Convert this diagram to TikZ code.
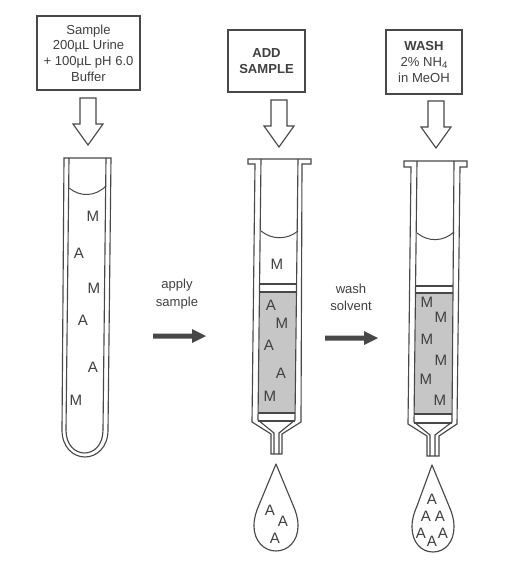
\documentclass[tikz,border=0pt]{standalone}
\usepackage{fontspec}
\setmainfont{Liberation Sans}
\definecolor{ink}{HTML}{484848}
\definecolor{txt}{HTML}{404040}
\definecolor{packing}{HTML}{C6C6C6}
\newcommand{\blockarrow}[2]{% centre x, tip y
  \draw[wall,fill=white] (#1-8,#2-47) -- (#1+8,#2-47) -- (#1+8,#2-21) -- (#1+15,#2-21) -- (#1,#2) -- (#1-15,#2-21) -- (#1-8,#2-21) -- cycle;}
\newcommand{\solidarrow}[2]{% left x, y
  \fill[ink] (#1,#2-2.5) -- (#1+39,#2-2.5) -- (#1+39,#2-7) -- (#1+53,#2) -- (#1+39,#2+7) -- (#1+39,#2+2.5) -- (#1,#2+2.5) -- cycle;}
\begin{document}
\begin{tikzpicture}[x=0.75pt,y=-0.75pt,
  wall/.style={draw=ink,line width=0.85pt,line join=miter},
  thin wall/.style={draw=ink,line width=0.75pt},
  box/.style={draw=ink,line width=0.9pt,fill=white,align=center,text=txt,font=\fontsize{9.8}{11.8}\selectfont,inner sep=0pt},
  letter/.style={text=txt,font=\fontsize{11.3}{13}\selectfont,inner sep=0pt},
  caption/.style={text=txt,align=center,font=\fontsize{9.8}{13}\selectfont,inner sep=0pt}]
\useasboundingbox (0,0) rectangle (515,564);
\fill[white] (0,0) rectangle (515,564);
% boxes
\node[box,minimum width=103*0.75pt,minimum height=74*0.75pt] (boxa) at (88.5,53) {Sample\\200µL Urine\\+ 100µL pH 6.0\\Buffer};
\node[box,minimum width=77*0.75pt,minimum height=62*0.75pt] (boxb) at (266.5,61) {\textbf{ADD}\\\textbf{SAMPLE}};
\node[box,minimum width=76*0.75pt,minimum height=64*0.75pt] (boxc) at (424,62) {\textbf{WASH}\\2\% NH\raisebox{-0.3ex}{\fontsize{7.2}{8}\selectfont 4}\\in MeOH};
% block arrows
\blockarrow{88}{145}
\blockarrow{279}{147}
\blockarrow{436}{148}
% test tube
\draw[wall] (62,430) -- (64,158) -- (111,158) -- (108,430) .. controls (108,447) and (97,457) .. (85,457) .. controls (73,457) and (62,447) .. (62,430);
\draw[wall] (69,158) -- (66,430) .. controls (66,445) and (75,453) .. (84.5,453) .. controls (94,453) and (103,445) .. (103,430) -- (106,158);
\draw[thin wall] (69,188) .. controls (80,197) and (95,197) .. (106,186);
% column 2
\fill[packing] (260,292) -- (296,292) -- (295,413) -- (258,413) -- cycle;
\draw[wall] (255,164) -- (248,164) -- (248,159) -- (311,159) -- (311,164) -- (302,164) -- (301,422) -- (282,434) -- (282,454) -- (271,454) -- (271,434) -- (252,422) -- cycle;
\draw[wall] (261,159) -- (258,420) -- (274,433) -- (274,454);
\draw[wall] (298,159) -- (295,420) -- (279,433) -- (279,454);
\draw[thin wall] (261,231) .. controls (272,240) and (287,240) .. (298,231);
\draw[wall] (260,284) -- (297,284);
\draw[wall] (260,292) -- (296,292);
\draw[wall] (258,413) -- (295,413);
\draw[wall] (258,421) -- (295,421);
% column 3
\fill[packing] (416,293) -- (453,293) -- (452,414) -- (414,414) -- cycle;
\draw[wall] (411,167) -- (404,167) -- (404,161) -- (467,161) -- (467,167) -- (460,167) -- (457,424) -- (439,436) -- (439,456) -- (427,456) -- (427,436) -- (408,424) -- cycle;
\draw[wall] (417,161) -- (414,422) -- (430,435) -- (430,456);
\draw[wall] (454,161) -- (452,422) -- (435,435) -- (435,456);
\draw[thin wall] (417,233) .. controls (428,242) and (443,242) .. (454,232);
\draw[wall] (416,286) -- (453,286);
\draw[wall] (416,293) -- (453,293);
\draw[wall] (414,414) -- (452,414);
\draw[wall] (414,423) -- (452,423);
% drops
\draw[wall,line join=round] (276,464) -- (259,505) .. controls (256,512) and (254,518) .. (254,526) .. controls (254,541) and (264,551) .. (276,551) .. controls (288,551) and (298,541) .. (298,526) .. controls (298,518) and (296,512) .. (293,505) -- cycle;
\draw[wall,line join=round] (432,465) -- (417,506) .. controls (414,513) and (412,519) .. (412,527) .. controls (412,542) and (421,552) .. (433,552) .. controls (445,552) and (454,542) .. (454,527) .. controls (454,519) and (452,513) .. (449,506) -- cycle;
% solid arrows
\solidarrow{153}{336}
\solidarrow{325}{338}
% captions
\node[caption] (capa) at (177,294) {apply\\sample};
\node[caption] (capb) at (351,297) {wash\\solvent};
% letters
\foreach \n/\px/\py/\l in {a1/93/216/M,a2/79/253/A,a3/94/288/M,a4/83/320/A,a5/93/367/A,a6/76/400/M,
  b1/277/264/M,b2/271/305/A,b3/282/323/M,b4/269/345/A,b5/281/373/A,b6/270/396/M,
  c1/427/302/M,c2/441/317/M,c3/427/339/M,c4/441/360/M,c5/426/379/M,c6/440/400/M,
  d1/270/510/A,d2/283/521/A,d3/275/538/A,
  e1/432/499/A,e2/426/516/A,e3/440/516/A,e4/421/533/A,e5/432/541/A,e6/443/533/A}
  \node[letter] (\n) at (\px,\py) {\l};
\end{tikzpicture}
\end{document}
